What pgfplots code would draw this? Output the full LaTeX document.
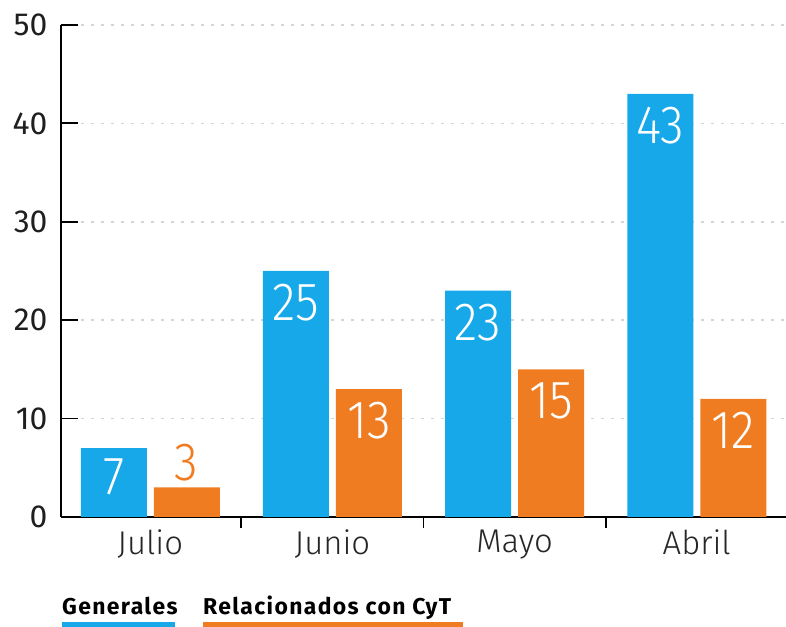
\documentclass[border=0pt]{standalone}
\usepackage{fontspec}
\setmainfont{Fira Sans}
\IfFontExistsTF{Fira Sans Light}{\newfontfamily\lightfont{Fira Sans Light}\newfontfamily\condlight{Fira Sans Light}[FakeStretch=0.9]}{\newfontfamily\lightfont{Fira Sans}\newfontfamily\condlight{Fira Sans}[FakeStretch=0.9]}
\newfontfamily\legfont{Fira Sans}[LetterSpace=6]
\usepackage{pgfplots}
\pgfplotsset{compat=1.18}
\definecolor{cblue}{RGB}{22,168,232}
\definecolor{corange}{RGB}{240,124,34}
\definecolor{gridgray}{RGB}{212,212,212}
\begin{document}
\begin{tikzpicture}[x=1bp,y=1bp]
\useasboundingbox (-61,-110) rectangle (725,517);
\begin{axis}[
  at={(0,0)}, anchor=south west,
  width=725bp, height=492bp, scale only axis,
  xmin=-0.49, xmax=3.49, ymin=0, ymax=50,
  axis x line=bottom, axis y line=left,
  axis line style={-, line width=1.8bp, black},
  /pgf/number format/assume math mode=true,
  ytick={0,10,20,30,40,50},
  xtick={0,1,2,3}, xticklabels={Julio,Junio,Mayo,Abril},
  minor xtick={0.5,1.5,2.5},
  every major x tick/.append style={draw=none},
  tick align=inside,
  major tick length=17bp, minor tick length=11bp,
  tick style={line width=1.8bp, black},
  yticklabel style={font=\fontsize{32}{32}\selectfont, text=black!88, xshift=-10bp},
  xticklabel style={font=\lightfont\fontsize{33}{33}\selectfont, text=black!85, yshift=8bp},
  ymajorgrids,
  major grid style={line width=1.5bp, gridgray, dash pattern=on 3bp off 7bp},
  ybar=7bp, bar width=66bp,
  nodes near coords={\pgfmathprintnumber{\pgfplotspointmeta}},
  visualization depends on={value \thisrow{anc}\as\anc},
  visualization depends on={value \thisrow{col}\as\col},
  visualization depends on={value \thisrow{sep}\as\sep},
  every node near coord/.append style={font=\condlight\fontsize{54}{54}\selectfont, text=\col, anchor=\anc, inner sep=0pt, outer sep=0pt, outer ysep=\sep},
]
\addplot[fill=cblue, draw=none] table {
x y anc col sep
0 7 north white 11bp
1 25 north white 13bp
2 23 north white 13bp
3 43 north white 13bp
};
\addplot[fill=corange, draw=none] table {
x y anc col sep
0 3 south corange 6bp
1 13 north white 13bp
2 15 north white 13bp
3 12 north white 13bp
};
\end{axis}
\node[anchor=base west, inner sep=0pt, font=\legfont\bfseries\fontsize{23}{23}\selectfont] at (1,-98) {Generales};
\node[anchor=base west, inner sep=0pt, font=\legfont\bfseries\fontsize{23}{23}\selectfont] at (142,-98) {Relacionados con CyT};
\fill[cblue] (1,-105) rectangle (114,-116);
\fill[corange] (142,-105) rectangle (402,-116);
\end{tikzpicture}
\end{document}
